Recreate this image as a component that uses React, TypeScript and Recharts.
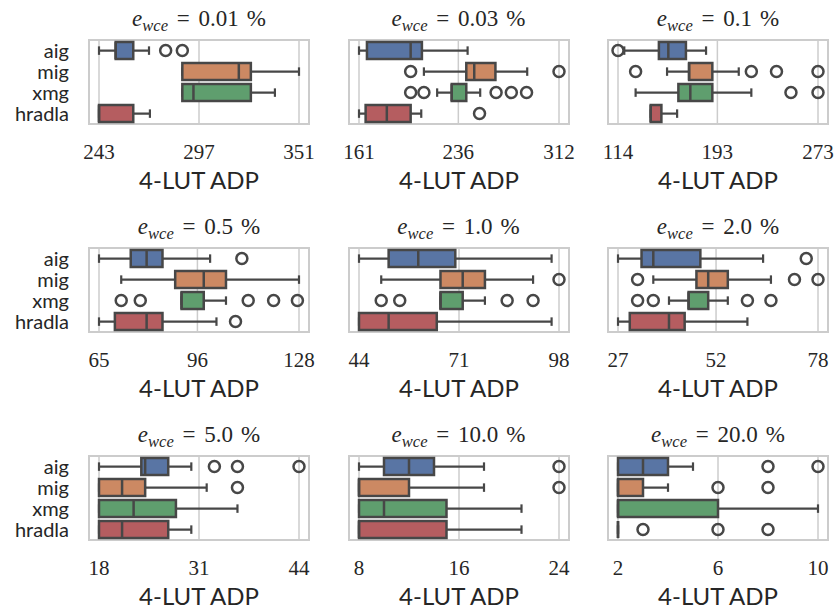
import React from 'react';
import {
  ComposedChart,
  Bar,
  Scatter,
  XAxis,
  YAxis,
  CartesianGrid,
  ReferenceArea,
  Label,
} from 'recharts';

const CATEGORIES = ['aig', 'mig', 'xmg', 'hradla'];
const ERRORS = ['0.01', '0.03', '0.1', '0.5', '1.0', '2.0', '5.0', '10.0', '20.0'];
const COLORS = ['#5975a4', '#cc8963', '#5f9e6e', '#b55d60'];
const GRAY = '#474747';
const TEXT = '#262626';

// tick labels (min, mid, max) of each panel
const TICKS = [
  [243, 297, 351],
  [161, 236, 312],
  [114, 193, 273],
  [65, 96, 128],
  [44, 71, 98],
  [27, 52, 78],
  [18, 31, 44],
  [8, 16, 24],
  [2, 6, 10],
];

// one row per category: [whisker lo, q1, median, q3, whisker hi]
const BOX_001 = [[243, 252, 252, 261.5, 270], [288, 288, 318.5, 325, 351], [288, 288, 294, 325, 338], [243, 243, 243, 261.5, 270.5]];
const BOX_003 = [[161, 167, 200, 208.5, 243], [210, 242, 248, 264, 288], [220, 231, 231, 242, 252.5], [161, 166, 182, 200, 208]];
const BOX_01 = [[119, 146.5, 154, 168, 184], [153, 170.5, 170.5, 189, 210], [128, 162, 171.5, 189, 220], [140, 140, 140, 148.5, 161]];
const BOX_05 = [[65, 75, 80, 85, 100], [72, 89, 98, 105, 128], [91, 91, 91, 98, 105], [65, 70, 80, 85, 102]];
const BOX_1 = [[44, 52, 60, 70, 96], [50, 66, 72, 78, 91], [66, 66, 66, 72, 78], [44, 44, 52, 65, 96]];
const BOX_2 = [[27, 33, 36, 48, 64], [36, 47, 50, 55, 66], [40, 45, 45, 50, 55], [27, 30, 40, 44, 60]];
const BOX_5 = [[18, 23.5, 24, 27, 30], [18, 18, 21, 24, 32], [18, 18, 22.5, 28, 36], [18, 18, 21, 27, 30]];
const BOX_10 = [[8, 10, 12, 14, 18], [8, 8, 8, 12, 18], [8, 8, 10, 15, 21], [8, 8, 8, 15, 21]];
const BOX_20 = [[2, 2, 3, 4, 5], [2, 2, 2, 3, 4], [2, 2, 2, 6, 10], [2, 2, 2, 2, 2]];

// outliers per category
const OUT_001 = [[279, 288], [], [], []];
const OUT_003 = [[], [200, 312], [200, 210, 264.5, 276, 287.5], [252]];
const OUT_01 = [[114], [128, 220, 240, 273], [251.5, 273], []];
const OUT_05 = [[110], [], [72, 78, 112, 120, 127.5], [108]];
const OUT_1 = [[], [98], [50, 55, 84, 91], []];
const OUT_2 = [[75], [32, 72, 78], [32, 36, 60, 66], []];
const OUT_5 = [[33, 36, 44], [36], [], []];
const OUT_10 = [[24], [24], [], []];
const OUT_20 = [[8, 10], [6, 8], [], [3, 6, 8]];

const BOXES = [BOX_001, BOX_003, BOX_01, BOX_05, BOX_1, BOX_2, BOX_5, BOX_10, BOX_20];
const OUTLIERS = [OUT_001, OUT_003, OUT_01, OUT_05, OUT_1, OUT_2, OUT_5, OUT_10, OUT_20];

const PLOT_LEFT = [89, 348.5, 608];
const PLOT_TOP = [39.5, 247.5, 455.5];
const PLOT_W = 220;

const WhiskerShape = (props: any) => {
  const { x, y, width, height } = props;
  const cy = y + height / 2;
  const cap = height * 0.25;
  return (
    <g stroke={GRAY} strokeWidth={2.2} fill="none">
      <line x1={x} x2={x + width} y1={cy} y2={cy} />
      <line x1={x} x2={x} y1={cy - cap} y2={cy + cap} />
      <line x1={x + width} x2={x + width} y1={cy - cap} y2={cy + cap} />
    </g>
  );
};

const BoxShape = (props: any) => {
  const { x, y, width, height, index } = props;
  return (
    <path
      d={`M${x},${y}H${x + width}V${y + height}H${x}Z`}
      fill={COLORS[index % COLORS.length]}
      stroke={GRAY}
      strokeWidth={2.5}
    />
  );
};

const MedianShape = (props: any) => {
  const { x, y, height } = props;
  return <line x1={x} x2={x} y1={y} y2={y + height} stroke={GRAY} strokeWidth={2.5} />;
};

const FlierShape = (props: any) => (
  <circle cx={props.cx} cy={props.cy} r={5.5} fill="none" stroke={GRAY} strokeWidth={2.5} />
);

function Panel({ idx }: { idx: number }) {
  const col = idx % 3;
  const row = Math.floor(idx / 3);
  const ticks = TICKS[idx];
  const pad = (ticks[2] - ticks[0]) * 0.05;
  const domain = [ticks[0] - pad, ticks[2] + pad];

  const data = CATEGORIES.map((name, i) => {
    const [lo, q1, med, q3, hi] = BOXES[idx][i];
    return { name, whisker: [lo, hi], box: [q1, q3], median: [med, med] };
  });
  const fliers = OUTLIERS[idx].flatMap((vals, r) => vals.map((v) => ({ v, row: r })));

  const left = PLOT_LEFT[col];
  const top = PLOT_TOP[row];

  return (
    <>
      <div
        style={{
          position: 'absolute',
          left: left - 20,
          top: top - 35,
          width: PLOT_W + 40,
          textAlign: 'center',
          fontFamily: 'Liberation Serif',
          fontSize: 23,
          lineHeight: '28px',
          color: TEXT,
          whiteSpace: 'nowrap',
        }}
      >
        <i>e</i>
        <sub style={{ fontStyle: 'italic', fontSize: '0.72em', verticalAlign: '-0.3em', lineHeight: 0 }}>wce</sub>
        <span style={{ margin: '0 0.38em' }}>=</span>
        {ERRORS[idx]}
        <span style={{ marginLeft: '0.35em' }}>%</span>
      </div>
      <div style={{ position: 'absolute', left: left - 80, top: top - 40 }}>
        <ComposedChart
          width={310}
          height={202}
          data={data}
          layout="vertical"
          margin={{ top: 40, right: 10, bottom: 0, left: 0 }}
          barCategoryGap="10%"
        >
          <XAxis
            type="number"
            domain={domain}
            ticks={ticks}
            interval={0}
            tickLine={false}
            axisLine={false}
            tickSize={0}
            tickMargin={20}
            height={78}
            tick={{ fontFamily: 'Liberation Serif', fontSize: 21, fill: TEXT }}
          >
            <Label
              value="4-LUT ADP"
              position="insideBottom"
              offset={13}
              style={{ fontFamily: 'Lato', fontSize: 24, fill: TEXT }}
            />
          </XAxis>
          <YAxis
            yAxisId="w"
            type="category"
            dataKey="name"
            width={80}
            interval={0}
            tickLine={false}
            axisLine={false}
            tickSize={0}
            tickMargin={20}
            tick={col === 0 ? { fontFamily: 'Lato', fontSize: 20, fill: TEXT } : false}
          />
          <YAxis yAxisId="b" type="category" dataKey="name" width={0} hide />
          <YAxis yAxisId="m" type="category" dataKey="name" width={0} hide />
          <YAxis yAxisId="o" type="number" dataKey="row" domain={[-0.5, 3.5]} width={0} hide />
          <CartesianGrid yAxisId="w" horizontal={false} stroke="#cccccc" strokeWidth={1.5} />
          <ReferenceArea
            yAxisId="w"
            x1={domain[0]}
            x2={domain[1]}
            fill="none"
            stroke="#cccccc"
            strokeWidth={2}
          />
          <Bar yAxisId="w" dataKey="whisker" shape={WhiskerShape} isAnimationActive={false} />
          <Bar yAxisId="b" dataKey="box" shape={BoxShape} isAnimationActive={false} />
          <Bar yAxisId="m" dataKey="median" shape={MedianShape} isAnimationActive={false} />
          <Scatter yAxisId="o" data={fliers} dataKey="v" shape={FlierShape} isAnimationActive={false} />
        </ComposedChart>
      </div>
    </>
  );
}

export default function App() {
  return (
    <div
      style={{
        position: 'absolute',
        left: 0,
        top: 0,
        width: 837,
        height: 607,
        overflow: 'hidden',
        background: '#ffffff',
      }}
    >
      {ERRORS.map((_, i) => (
        <Panel key={i} idx={i} />
      ))}
    </div>
  );
}
